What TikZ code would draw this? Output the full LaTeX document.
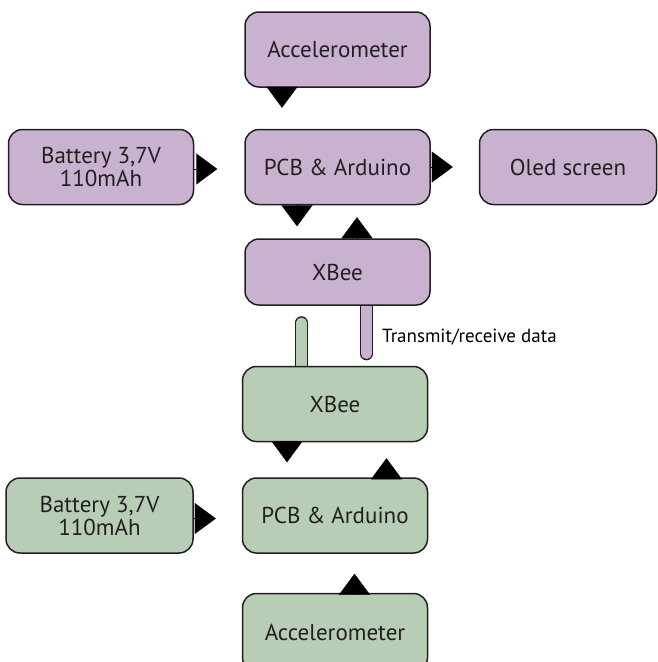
\documentclass[tikz,border=0pt]{standalone}
\usepackage{fontspec}
\setmainfont{PT Sans}
\usetikzlibrary{arrows.meta,positioning,backgrounds}
\definecolor{rxpurple}{HTML}{C9B1D0}
\definecolor{txgreen}{HTML}{B8CDB6}
\definecolor{edgegray}{HTML}{231F20}
\begin{document}
\begin{tikzpicture}[x=1pt, y=-1pt,
      block/.style={draw=edgegray, line width=1.5pt, rounded corners=14pt, align=center,
        minimum width=185pt, minimum height=75pt, inner sep=0pt, text=edgegray,
        font=\fontsize{23}{23}\selectfont},
      rxblock/.style={block, fill=rxpurple},
      txblock/.style={block, fill=txgreen},
      tri/.style={-{Triangle[length=21pt, width=31pt]}, line width=0.1pt, draw=black, fill=black},
      antenna/.style={line width=1.3pt, draw=edgegray, double distance=10.5pt, line cap=round},
      lbl/.style={inner sep=0pt, text=black, font=\fontsize{19}{21}\selectfont}
    ]
    \useasboundingbox (0,0) rectangle (657,662);
    % receiver side
    \node[rxblock] (acctop) at (337.5,49.5) {Accelerometer};
    \node[rxblock, below=41pt of acctop] (pcbtop) {PCB \& Arduino};
    \node[rxblock, left=50pt of pcbtop] (battop) {Battery 3,7V\\110mAh};
    \node[rxblock, right=48pt of pcbtop, minimum width=177pt] (oled) {Oled screen};
    \node[rxblock, below=33pt of pcbtop, minimum height=66pt] (xbeetop) {XBee};
    % sender side
    \node[txblock, below=60pt of xbeetop, xshift=-2.5pt] (xbeebot) {XBee};
    \node[txblock, below=35pt of xbeebot] (pcbbot) {PCB \& Arduino};
    \node[txblock, left=48pt of pcbbot, minimum width=187pt] (batbot) {Battery 3,7V\\110mAh};
    \node[txblock, below=39pt of pcbbot, minimum height=78pt] (accbot) {Accelerometer};
    % radio link
    \coordinate (txtip) at ([xshift=-33.5pt,yshift=43pt]xbeebot.north);
    \coordinate (rxtip) at ([xshift=29pt,yshift=-48pt]xbeetop.south);
    \begin{scope}[on background layer]
      \draw[antenna, double=txgreen] (txtip) -- ([xshift=-33.5pt,yshift=-10pt]xbeebot.north);
      \draw[antenna, double=rxpurple] (rxtip) -- ([xshift=29pt,yshift=10pt]xbeetop.south);
    \end{scope}
    \node[lbl, anchor=west] (txlabel) at ([xshift=44.5pt,yshift=-31pt]xbeetop.south) {Transmit/receive data};
    % arrows
    \draw[tri] ([xshift=-55.5pt]acctop.south) -- ++(0,20);
    \draw[tri] ([yshift=-2pt]battop.east) -- ++(23,0);
    \draw[tri] (pcbtop.east) -- ++(22,0);
    \draw[tri] ([xshift=-40.5pt]pcbtop.south) -- ++(0,21);
    \draw[tri] ([xshift=19.5pt]xbeetop.north) -- ++(0,-21);
    \draw[tri] ([xshift=-48pt]xbeebot.south) -- ++(0,20);
    \draw[tri] ([xshift=51.5pt]pcbbot.north) -- ++(0,-19);
    \draw[tri] ([yshift=-3pt]batbot.east) -- ++(22,0);
    \draw[tri] ([xshift=19.5pt]accbot.north) -- ++(0,-19);
  \end{tikzpicture}
\end{document}
